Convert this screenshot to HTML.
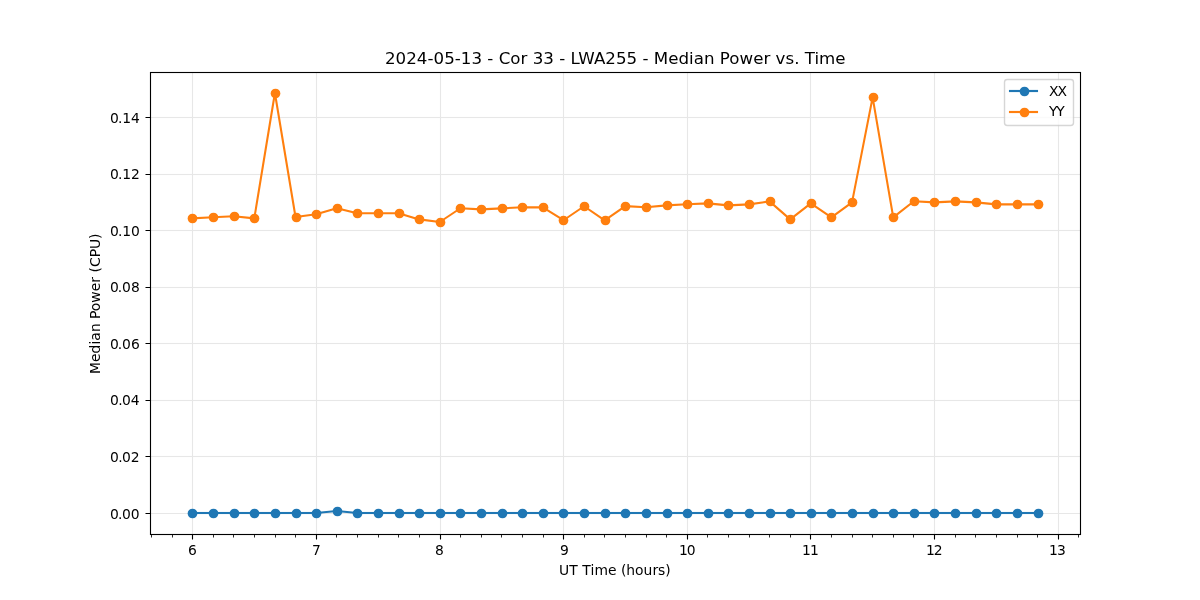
<!DOCTYPE html>
<html lang="en">
<head>
<meta charset="utf-8">
<title>2024-05-13 - Cor 33 - LWA255 - Median Power vs. Time</title>
<style>html,body{margin:0;padding:0;background:#fff}body{width:1200px;height:600px;overflow:hidden}svg{display:block}text{white-space:pre}</style>
</head>
<body>
<svg width="1200" height="600" viewBox="0 0 1200 600" font-family="'DejaVu Sans','Liberation Sans',sans-serif" font-size="13.889px" fill="#000">
<rect width="1200" height="600" fill="#fff"/>
<path d="M192.5 72V534M316.5 72V534M440.5 72V534M563.5 72V534M687.5 72V534M810.5 72V534M934.5 72V534M1058.5 72V534M150 513.5H1080M150 456.5H1080M150 400.5H1080M150 343.5H1080M150 287.5H1080M150 230.5H1080M150 174.5H1080M150 117.5H1080" fill="none" stroke="#b0b0b0" stroke-opacity="0.3" stroke-width="1.111"/>
<path d="M192.5 534.5v5M316.5 534.5v5M440.5 534.5v5M563.5 534.5v5M687.5 534.5v5M810.5 534.5v5M934.5 534.5v5M1058.5 534.5v5M150.5 513.5h-5M150.5 456.5h-5M150.5 400.5h-5M150.5 343.5h-5M150.5 287.5h-5M150.5 230.5h-5M150.5 174.5h-5M150.5 117.5h-5" fill="none" stroke="#000" stroke-width="1.111"/>
<path d="M151.5 534.5v3M172.5 534.5v3M213.5 534.5v3M233.5 534.5v3M254.5 534.5v3M275.5 534.5v3M295.5 534.5v3M336.5 534.5v3M357.5 534.5v3M378.5 534.5v3M398.5 534.5v3M419.5 534.5v3M460.5 534.5v3M481.5 534.5v3M501.5 534.5v3M522.5 534.5v3M543.5 534.5v3M584.5 534.5v3M604.5 534.5v3M625.5 534.5v3M646.5 534.5v3M666.5 534.5v3M707.5 534.5v3M728.5 534.5v3M749.5 534.5v3M769.5 534.5v3M790.5 534.5v3M831.5 534.5v3M852.5 534.5v3M872.5 534.5v3M893.5 534.5v3M913.5 534.5v3M955.5 534.5v3M975.5 534.5v3M996.5 534.5v3M1017.5 534.5v3M1037.5 534.5v3M1078.5 534.5v3" fill="none" stroke="#000" stroke-width="0.833"/>
<polyline points="192.47,513 213.08,513 233.69,513 254.3,513 274.91,513 295.52,513 316.14,513 336.75,511.02 357.36,513 377.97,513 398.58,513 419.19,513 439.8,513 460.41,513 481.02,513 501.63,513 522.25,513 542.86,513 563.47,513 584.08,513 604.69,513 625.3,513 645.91,513 666.52,513 687.13,513 707.75,513 728.36,513 748.97,513 769.58,513 790.19,513 810.8,513 831.41,513 852.02,513 872.63,513 893.24,513 913.86,513 934.47,513 955.08,513 975.69,513 996.3,513 1016.91,513 1037.52,513" fill="none" stroke="#1f77b4" stroke-width="2.083" stroke-linejoin="round" stroke-linecap="square"/>
<g fill="#1f77b4"><circle cx="192.5" cy="513.5" r="4.86"/><circle cx="213.5" cy="513.5" r="4.86"/><circle cx="234.5" cy="513.5" r="4.86"/><circle cx="254.5" cy="513.5" r="4.86"/><circle cx="275.5" cy="513.5" r="4.86"/><circle cx="296.5" cy="513.5" r="4.86"/><circle cx="316.5" cy="513.5" r="4.86"/><circle cx="337.5" cy="511.5" r="4.86"/><circle cx="357.5" cy="513.5" r="4.86"/><circle cx="378.5" cy="513.5" r="4.86"/><circle cx="399.5" cy="513.5" r="4.86"/><circle cx="419.5" cy="513.5" r="4.86"/><circle cx="440.5" cy="513.5" r="4.86"/><circle cx="460.5" cy="513.5" r="4.86"/><circle cx="481.5" cy="513.5" r="4.86"/><circle cx="502.5" cy="513.5" r="4.86"/><circle cx="522.5" cy="513.5" r="4.86"/><circle cx="543.5" cy="513.5" r="4.86"/><circle cx="563.5" cy="513.5" r="4.86"/><circle cx="584.5" cy="513.5" r="4.86"/><circle cx="605.5" cy="513.5" r="4.86"/><circle cx="625.5" cy="513.5" r="4.86"/><circle cx="646.5" cy="513.5" r="4.86"/><circle cx="667.5" cy="513.5" r="4.86"/><circle cx="687.5" cy="513.5" r="4.86"/><circle cx="708.5" cy="513.5" r="4.86"/><circle cx="728.5" cy="513.5" r="4.86"/><circle cx="749.5" cy="513.5" r="4.86"/><circle cx="770.5" cy="513.5" r="4.86"/><circle cx="790.5" cy="513.5" r="4.86"/><circle cx="811.5" cy="513.5" r="4.86"/><circle cx="831.5" cy="513.5" r="4.86"/><circle cx="852.5" cy="513.5" r="4.86"/><circle cx="873.5" cy="513.5" r="4.86"/><circle cx="893.5" cy="513.5" r="4.86"/><circle cx="914.5" cy="513.5" r="4.86"/><circle cx="934.5" cy="513.5" r="4.86"/><circle cx="955.5" cy="513.5" r="4.86"/><circle cx="976.5" cy="513.5" r="4.86"/><circle cx="996.5" cy="513.5" r="4.86"/><circle cx="1017.5" cy="513.5" r="4.86"/><circle cx="1038.5" cy="513.5" r="4.86"/></g>
<polyline points="192.47,218.4 213.08,217.25 233.69,216.26 254.3,218.4 274.91,93 295.52,217 316.14,214.25 336.75,208.25 357.36,213.26 377.97,213.26 398.58,213.26 419.19,219.4 439.8,222 460.41,208.25 481.02,209.4 501.63,208.39 522.25,207.26 542.86,207.4 563.47,220.24 584.08,206.24 604.69,220.39 625.3,206.1 645.91,207.26 666.52,205.4 687.13,204.21 707.75,203.39 728.36,205.4 748.97,204.4 769.58,201.4 790.19,219.4 810.8,203.39 831.41,217.39 852.02,202.4 872.63,97.33 893.24,217.39 913.86,201.24 934.47,202.4 955.08,201.4 975.69,202.4 996.3,204.4 1016.91,204.4 1037.52,204.4" fill="none" stroke="#ff7f0e" stroke-width="2.083" stroke-linejoin="round" stroke-linecap="square"/>
<g fill="#ff7f0e"><circle cx="192.5" cy="218.5" r="4.86"/><circle cx="213.5" cy="217.5" r="4.86"/><circle cx="234.5" cy="216.5" r="4.86"/><circle cx="254.5" cy="218.5" r="4.86"/><circle cx="275.5" cy="93.5" r="4.86"/><circle cx="296.5" cy="217.5" r="4.86"/><circle cx="316.5" cy="214.5" r="4.86"/><circle cx="337.5" cy="208.5" r="4.86"/><circle cx="357.5" cy="213.5" r="4.86"/><circle cx="378.5" cy="213.5" r="4.86"/><circle cx="399.5" cy="213.5" r="4.86"/><circle cx="419.5" cy="219.5" r="4.86"/><circle cx="440.5" cy="222.5" r="4.86"/><circle cx="460.5" cy="208.5" r="4.86"/><circle cx="481.5" cy="209.5" r="4.86"/><circle cx="502.5" cy="208.5" r="4.86"/><circle cx="522.5" cy="207.5" r="4.86"/><circle cx="543.5" cy="207.5" r="4.86"/><circle cx="563.5" cy="220.5" r="4.86"/><circle cx="584.5" cy="206.5" r="4.86"/><circle cx="605.5" cy="220.5" r="4.86"/><circle cx="625.5" cy="206.5" r="4.86"/><circle cx="646.5" cy="207.5" r="4.86"/><circle cx="667.5" cy="205.5" r="4.86"/><circle cx="687.5" cy="204.5" r="4.86"/><circle cx="708.5" cy="203.5" r="4.86"/><circle cx="728.5" cy="205.5" r="4.86"/><circle cx="749.5" cy="204.5" r="4.86"/><circle cx="770.5" cy="201.5" r="4.86"/><circle cx="790.5" cy="219.5" r="4.86"/><circle cx="811.5" cy="203.5" r="4.86"/><circle cx="831.5" cy="217.5" r="4.86"/><circle cx="852.5" cy="202.5" r="4.86"/><circle cx="873.5" cy="97.5" r="4.86"/><circle cx="893.5" cy="217.5" r="4.86"/><circle cx="914.5" cy="201.5" r="4.86"/><circle cx="934.5" cy="202.5" r="4.86"/><circle cx="955.5" cy="201.5" r="4.86"/><circle cx="976.5" cy="202.5" r="4.86"/><circle cx="996.5" cy="204.5" r="4.86"/><circle cx="1017.5" cy="204.5" r="4.86"/><circle cx="1038.5" cy="204.5" r="4.86"/></g>
<path d="M150 71.5H1081M151 73.5H1080M151 533.5H1080M150 535.5H1081" fill="none" stroke="#000" stroke-opacity="0.055" stroke-width="1"/>
<path d="M191.43 511.5H316.14M357.36 511.5H1038.56M191.43 514.5H316.14M357.36 514.5H1038.56" fill="none" stroke="#1f77b4" stroke-opacity="0.042" stroke-width="1"/>
<path d="M151 455.5H1080M151 457.5H1080M151 399.5H1080M151 401.5H1080M151 342.5H1080M151 344.5H1080M151 286.5H1080M151 288.5H1080M151 229.5H1080M151 231.5H1080M151 173.5H1080M151 175.5H1080M151 116.5H1080M151 118.5H1080" fill="none" stroke="#b0b0b0" stroke-opacity="0.0167" stroke-width="1"/>
<path d="M150.5 72.5H1080.5V534.5H150.5Z" fill="none" stroke="#000" stroke-width="1.111" stroke-linejoin="miter"/>
<text x="187.92" y="555">6</text>
<text x="311.9" y="555">7</text>
<text x="434.93" y="555">8</text>
<text x="559.91" y="555">9</text>
<text x="679.09 686.65" y="555">10</text>
<text x="801.88 809.88" y="555">11</text>
<text x="926.04 933.67" y="555">12</text>
<text x="1048.9 1056.96" y="555">13</text>
<text x="109.94 118.12 122.11 130.69" y="519">0.00</text>
<text x="109.94 118.25 121.98 130.69" y="462">0.02</text>
<text x="109.94 118.25 121.98 130.69" y="405">0.04</text>
<text x="109.94 117.87 122.11 130.94" y="349">0.06</text>
<text x="109.94 117.87 122.11 130.94" y="292">0.08</text>
<text x="109.94 118.12 122.23 130.94" y="236">0.10</text>
<text x="109.94 118.12 122.23 130.94" y="179">0.12</text>
<text x="109.94 118.12 122.23 130.94" y="123">0.14</text>
<text x="559 569.14 577.62 582.16 590.45 594.38 607.89 616.42 621.03 626.19 634.98 643.41 652.39 657.97 665.14" y="575">UT Time (hours)</text>
<text transform="translate(100 303) rotate(-90)" x="-71.08 -59.11 -50.58 -41.58 -37.86 -29.09 -20.31 -16.08 -8.16 0.34 11.69 20.22 25.92 30.41 36 45.69 53.94 63.91" y="0">Median Power (CPU)</text>
<text x="385" y="63.67" font-size="16.667px" textLength="460.6" lengthAdjust="spacing">2024-05-13 - Cor 33 - LWA255 - Median Power vs. Time</text>
<rect x="1004.5" y="79.5" width="69" height="46" rx="2.78" ry="2.78" fill="#fff" stroke="#ccc" stroke-width="1.389" opacity="0.8"/>
<path d="M1010 91H1037" stroke="#1f77b4" stroke-width="2.083" stroke-linecap="square" fill="none"/>
<path d="M1008.96 89.5H1038.04M1008.96 92.5H1038.04" stroke="#1f77b4" stroke-opacity="0.042" stroke-width="1" fill="none"/>
<circle cx="1024.5" cy="91.5" r="4.86" fill="#1f77b4"/>
<text x="1048.91 1057.41" y="96">XX</text>
<path d="M1010 112H1037" stroke="#ff7f0e" stroke-width="2.083" stroke-linecap="square" fill="none"/>
<path d="M1008.96 110.5H1038.04M1008.96 113.5H1038.04" stroke="#ff7f0e" stroke-opacity="0.042" stroke-width="1" fill="none"/>
<circle cx="1024.5" cy="112.5" r="4.86" fill="#ff7f0e"/>
<text x="1048.91 1056.13" y="116">YY</text>
</svg>
</body>
</html>
